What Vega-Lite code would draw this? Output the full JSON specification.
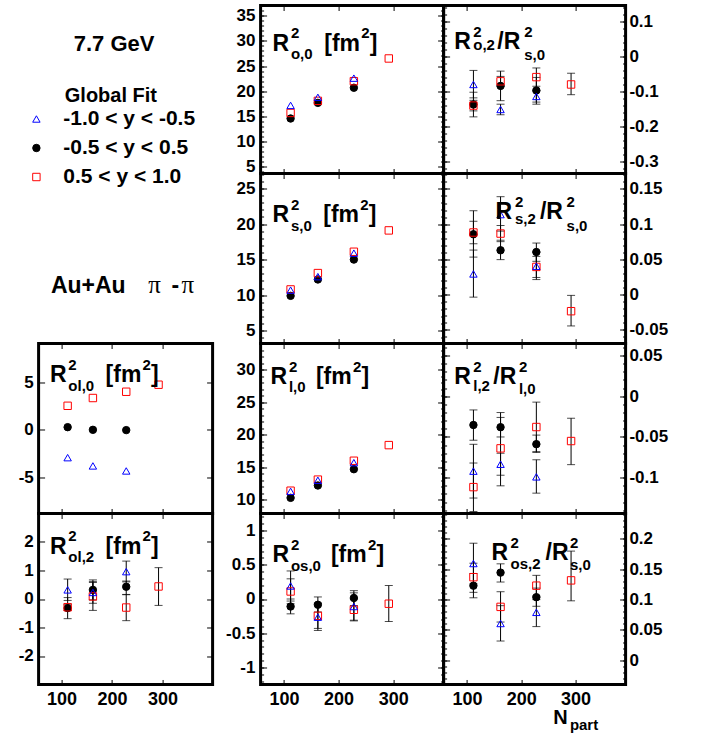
{
"$schema": "https://vega.github.io/schema/vega-lite/v6.json",
"padding": {"left": 16.6, "top": 3.5, "right": 5, "bottom": 5},
"columns": 4,
"spacing": 0,
"bounds": "flush",
"align": "each",
"config": {
  "font": "Liberation Sans",
  "locale": {"number": {"decimal": ".", "thousands": ",", "grouping": [3], "currency": ["$", ""], "minus": "-"}},
  "view": {"stroke": "black", "strokeWidth": 3},
  "axis": {"domain": false, "grid": false, "tickColor": "black", "tickWidth": 1, "labelColor": "black", "labelFont": "Liberation Sans", "labelFontWeight": "bold", "labelFontSize": 17, "labelOverlap": false, "labelFlush": false},
  "legend": {"titleFont": "Liberation Sans", "titleFontSize": 20, "titleFontWeight": "bold", "titleColor": "black", "titleAnchor": "middle", "titlePadding": 3, "labelFont": "Liberation Sans", "labelFontSize": 21, "labelFontWeight": "bold", "labelColor": "black", "labelOffset": 16.4, "labelLimit": 300, "rowPadding": 7, "symbolSize": 55, "symbolStrokeWidth": 1},
  "text": {"font": "Liberation Sans", "fontWeight": "bold", "color": "black", "align": "left", "baseline": "alphabetic"},
  "tick": {"color": "black", "thickness": 1},
  "rule": {"color": "black", "strokeWidth": 1}
},
"datasets": {
"hbt": [
{"p":"o0","n":112,"s":"-0.5 < y < 0.5","v":14.6},
{"p":"o0","n":162,"s":"-0.5 < y < 0.5","v":17.7},
{"p":"o0","n":228,"s":"-0.5 < y < 0.5","v":20.7},
{"p":"o0","n":112,"s":"0.5 < y < 1.0","v":15.7},
{"p":"o0","n":162,"s":"0.5 < y < 1.0","v":18.1},
{"p":"o0","n":228,"s":"0.5 < y < 1.0","v":22.0},
{"p":"o0","n":292,"s":"0.5 < y < 1.0","v":26.5},
{"p":"o0","n":112,"s":"-1.0 < y < -0.5","v":17.2},
{"p":"o0","n":162,"s":"-1.0 < y < -0.5","v":18.8},
{"p":"o0","n":228,"s":"-1.0 < y < -0.5","v":22.6},

{"p":"o2","n":112,"s":"-0.5 < y < 0.5","v":-0.137,"lo":-0.172,"hi":-0.102},
{"p":"o2","n":162,"s":"-0.5 < y < 0.5","v":-0.084,"lo":-0.126,"hi":-0.042},
{"p":"o2","n":228,"s":"-0.5 < y < 0.5","v":-0.097,"lo":-0.136,"hi":-0.06},
{"p":"o2","n":112,"s":"0.5 < y < 1.0","v":-0.14,"lo":-0.155,"hi":-0.125},
{"p":"o2","n":162,"s":"0.5 < y < 1.0","v":-0.071,"lo":-0.085,"hi":-0.057},
{"p":"o2","n":228,"s":"0.5 < y < 1.0","v":-0.059,"lo":-0.085,"hi":-0.033},
{"p":"o2","n":292,"s":"0.5 < y < 1.0","v":-0.08,"lo":-0.109,"hi":-0.048},
{"p":"o2","n":112,"s":"-1.0 < y < -0.5","v":-0.08,"lo":-0.118,"hi":-0.04},
{"p":"o2","n":162,"s":"-1.0 < y < -0.5","v":-0.151,"lo":-0.166,"hi":-0.136},
{"p":"o2","n":228,"s":"-1.0 < y < -0.5","v":-0.114,"lo":-0.13,"hi":-0.098},

{"p":"s0","n":112,"s":"-0.5 < y < 0.5","v":9.9},
{"p":"s0","n":162,"s":"-0.5 < y < 0.5","v":12.2},
{"p":"s0","n":228,"s":"-0.5 < y < 0.5","v":15.0},
{"p":"s0","n":112,"s":"0.5 < y < 1.0","v":10.8},
{"p":"s0","n":162,"s":"0.5 < y < 1.0","v":13.1},
{"p":"s0","n":228,"s":"0.5 < y < 1.0","v":16.1},
{"p":"s0","n":292,"s":"0.5 < y < 1.0","v":19.1},
{"p":"s0","n":112,"s":"-1.0 < y < -0.5","v":10.7},
{"p":"s0","n":162,"s":"-1.0 < y < -0.5","v":12.6},
{"p":"s0","n":228,"s":"-1.0 < y < -0.5","v":15.9},

{"p":"s2","n":112,"s":"-0.5 < y < 0.5","v":0.0855,"lo":0.053,"hi":0.119},
{"p":"s2","n":162,"s":"-0.5 < y < 0.5","v":0.0627,"lo":0.0494,"hi":0.077},
{"p":"s2","n":228,"s":"-0.5 < y < 0.5","v":0.0602,"lo":0.047,"hi":0.073},
{"p":"s2","n":112,"s":"0.5 < y < 1.0","v":0.088,"lo":0.072,"hi":0.104},
{"p":"s2","n":162,"s":"0.5 < y < 1.0","v":0.0865,"lo":0.075,"hi":0.098},
{"p":"s2","n":228,"s":"0.5 < y < 1.0","v":0.039,"lo":0.024,"hi":0.054},
{"p":"s2","n":292,"s":"0.5 < y < 1.0","v":-0.024,"lo":-0.045,"hi":-0.0015},
{"p":"s2","n":112,"s":"-1.0 < y < -0.5","v":0.029,"lo":-0.004,"hi":0.063},
{"p":"s2","n":162,"s":"-1.0 < y < -0.5","v":0.1135,"lo":0.09,"hi":0.139},
{"p":"s2","n":228,"s":"-1.0 < y < -0.5","v":0.04,"lo":0.021,"hi":0.06},

{"p":"ol0","n":112,"s":"-0.5 < y < 0.5","v":0.29},
{"p":"ol0","n":162,"s":"-0.5 < y < 0.5","v":0.01},
{"p":"ol0","n":228,"s":"-0.5 < y < 0.5","v":-0.02},
{"p":"ol0","n":112,"s":"0.5 < y < 1.0","v":2.54},
{"p":"ol0","n":162,"s":"0.5 < y < 1.0","v":3.36},
{"p":"ol0","n":228,"s":"0.5 < y < 1.0","v":4.02},
{"p":"ol0","n":292,"s":"0.5 < y < 1.0","v":4.76},
{"p":"ol0","n":112,"s":"-1.0 < y < -0.5","v":-2.92},
{"p":"ol0","n":162,"s":"-1.0 < y < -0.5","v":-3.79},
{"p":"ol0","n":228,"s":"-1.0 < y < -0.5","v":-4.32},

{"p":"l0","n":112,"s":"-0.5 < y < 0.5","v":10.3},
{"p":"l0","n":162,"s":"-0.5 < y < 0.5","v":12.2},
{"p":"l0","n":228,"s":"-0.5 < y < 0.5","v":14.7},
{"p":"l0","n":112,"s":"0.5 < y < 1.0","v":11.4},
{"p":"l0","n":162,"s":"0.5 < y < 1.0","v":13.1},
{"p":"l0","n":228,"s":"0.5 < y < 1.0","v":16.0},
{"p":"l0","n":292,"s":"0.5 < y < 1.0","v":18.4},
{"p":"l0","n":112,"s":"-1.0 < y < -0.5","v":11.3},
{"p":"l0","n":162,"s":"-1.0 < y < -0.5","v":13.0},
{"p":"l0","n":228,"s":"-1.0 < y < -0.5","v":15.7},

{"p":"l2","n":112,"s":"-0.5 < y < 0.5","v":-0.0353,"lo":-0.054,"hi":-0.0168},
{"p":"l2","n":162,"s":"-0.5 < y < 0.5","v":-0.038,"lo":-0.05,"hi":-0.026},
{"p":"l2","n":228,"s":"-0.5 < y < 0.5","v":-0.0588,"lo":-0.068,"hi":-0.0477},
{"p":"l2","n":112,"s":"0.5 < y < 1.0","v":-0.1116,"lo":-0.1416,"hi":-0.082},
{"p":"l2","n":162,"s":"0.5 < y < 1.0","v":-0.064,"lo":-0.11,"hi":-0.02},
{"p":"l2","n":228,"s":"0.5 < y < 1.0","v":-0.0378,"lo":-0.069,"hi":-0.0072},
{"p":"l2","n":292,"s":"0.5 < y < 1.0","v":-0.055,"lo":-0.084,"hi":-0.027},
{"p":"l2","n":112,"s":"-1.0 < y < -0.5","v":-0.092,"lo":-0.125,"hi":-0.059},
{"p":"l2","n":162,"s":"-1.0 < y < -0.5","v":-0.0835,"lo":-0.097,"hi":-0.07},
{"p":"l2","n":228,"s":"-1.0 < y < -0.5","v":-0.099,"lo":-0.119,"hi":-0.078},

{"p":"ol2","n":112,"s":"-0.5 < y < 0.5","v":-0.32,"lo":-0.69,"hi":0.05},
{"p":"ol2","n":162,"s":"-0.5 < y < 0.5","v":0.32,"lo":-0.03,"hi":0.67},
{"p":"ol2","n":228,"s":"-0.5 < y < 0.5","v":0.43,"lo":0.15,"hi":0.63},
{"p":"ol2","n":112,"s":"0.5 < y < 1.0","v":-0.29,"lo":-0.4,"hi":-0.18},
{"p":"ol2","n":162,"s":"0.5 < y < 1.0","v":0.09,"lo":-0.4,"hi":0.58},
{"p":"ol2","n":228,"s":"0.5 < y < 1.0","v":-0.3,"lo":-0.76,"hi":0.16},
{"p":"ol2","n":292,"s":"0.5 < y < 1.0","v":0.44,"lo":-0.225,"hi":1.1},
{"p":"ol2","n":112,"s":"-1.0 < y < -0.5","v":0.32,"lo":-0.05,"hi":0.7},
{"p":"ol2","n":162,"s":"-1.0 < y < -0.5","v":0.23,"lo":-0.15,"hi":0.61},
{"p":"ol2","n":228,"s":"-1.0 < y < -0.5","v":0.96,"lo":0.6,"hi":1.33},

{"p":"os0","n":112,"s":"-0.5 < y < 0.5","v":-0.11,"lo":-0.217,"hi":0.0},
{"p":"os0","n":162,"s":"-0.5 < y < 0.5","v":-0.084,"lo":-0.19,"hi":0.03},
{"p":"os0","n":228,"s":"-0.5 < y < 0.5","v":0.015,"lo":-0.095,"hi":0.122},
{"p":"os0","n":112,"s":"0.5 < y < 1.0","v":0.11,"lo":-0.07,"hi":0.295},
{"p":"os0","n":162,"s":"0.5 < y < 1.0","v":-0.246,"lo":-0.43,"hi":-0.06},
{"p":"os0","n":228,"s":"0.5 < y < 1.0","v":-0.158,"lo":-0.32,"hi":0.0},
{"p":"os0","n":292,"s":"0.5 < y < 1.0","v":-0.069,"lo":-0.33,"hi":0.196},
{"p":"os0","n":112,"s":"-1.0 < y < -0.5","v":0.19,"lo":-0.03,"hi":0.41},
{"p":"os0","n":162,"s":"-1.0 < y < -0.5","v":-0.266,"lo":-0.46,"hi":-0.07},
{"p":"os0","n":228,"s":"-1.0 < y < -0.5","v":-0.11,"lo":-0.31,"hi":0.09},

{"p":"os2","n":112,"s":"-0.5 < y < 0.5","v":0.123,"lo":0.103,"hi":0.143},
{"p":"os2","n":162,"s":"-0.5 < y < 0.5","v":0.1445,"lo":0.129,"hi":0.159},
{"p":"os2","n":228,"s":"-0.5 < y < 0.5","v":0.104,"lo":0.089,"hi":0.119},
{"p":"os2","n":112,"s":"0.5 < y < 1.0","v":0.137,"lo":0.112,"hi":0.16},
{"p":"os2","n":162,"s":"0.5 < y < 1.0","v":0.088,"lo":0.063,"hi":0.113},
{"p":"os2","n":228,"s":"0.5 < y < 1.0","v":0.123,"lo":0.106,"hi":0.14},
{"p":"os2","n":292,"s":"0.5 < y < 1.0","v":0.1317,"lo":0.098,"hi":0.18},
{"p":"os2","n":112,"s":"-1.0 < y < -0.5","v":0.1595,"lo":0.126,"hi":0.193},
{"p":"os2","n":162,"s":"-1.0 < y < -0.5","v":0.0606,"lo":0.0317,"hi":0.09},
{"p":"os2","n":228,"s":"-1.0 < y < -0.5","v":0.079,"lo":0.0555,"hi":0.1}
]
},
"concat": [
{"width": 174, "height": 168, "view": {"stroke": null}, "data": {"values": [{}]},
 "mark": {"type": "text", "text": "7.7 GeV", "fontSize": 22, "align": "center"},
 "encoding": {"x": {"datum": 0.434, "type": "quantitative", "scale": {"domain": [0, 1]}, "axis": null},
              "y": {"datum": 0.272, "type": "quantitative", "scale": {"domain": [0, 1], "reverse": true}, "axis": null}}},
{"width": 48, "height": 168, "view": {"stroke": null}, "data": {"values": [{}]}, "mark": {"type": "text", "text": ""}},
{"width": 183, "height": 168, "data": {"name": "hbt"}, "transform": [{"filter": "datum.p == 'o0'"}],
 "resolve": {"axis": {"x": "independent", "y": "independent"}},
 "layer": [
  {"mark": {"type": "rule"},
   "encoding": {"x": {"field": "n", "type": "quantitative", "scale": {"domain": [57, 392.5], "nice": false, "zero": false}, "axis": {"orient": "bottom", "values": [100, 200, 300], "tickSize": -5, "labels": false, "title": null}},
                "y": {"field": "lo", "type": "quantitative", "scale": {"domain": [3.7, 37], "nice": false, "zero": false}, "axis": {"orient": "left", "values": [5, 10, 15, 20, 25, 30, 35], "tickSize": -6, "labelPadding": 11.7, "format": "~g", "title": null}},
                "y2": {"field": "hi"}}},
  {"mark": {"type": "tick", "orient": "horizontal", "size": 8},
   "encoding": {"x": {"field": "n", "type": "quantitative", "axis": {"orient": "top", "values": [100, 200, 300], "tickSize": -5, "labels": false, "title": null}},
                "y": {"field": "lo", "type": "quantitative", "axis": {"orient": "right", "values": [5, 10, 15, 20, 25, 30, 35], "tickSize": -6, "labels": false, "title": null}}}},
  {"mark": {"type": "tick", "orient": "horizontal", "size": 8},
   "encoding": {"x": {"field": "n", "type": "quantitative", "axis": null},
                "y": {"field": "hi", "type": "quantitative", "axis": {"orient": "left", "values": [4,5,6,7,8,9,10,11,12,13,14,15,16,17,18,19,20,21,22,23,24,25,26,27,28,29,30,31,32,33,34,35,36,37], "tickSize": -3, "labels": false, "title": null}}}},
  {"mark": {"type": "point", "filled": true, "size": 55, "strokeWidth": 1, "opacity": 1},
   "encoding": {"x": {"field": "n", "type": "quantitative", "axis": null},
                "y": {"field": "v", "type": "quantitative", "axis": {"orient": "right", "values": [4,5,6,7,8,9,10,11,12,13,14,15,16,17,18,19,20,21,22,23,24,25,26,27,28,29,30,31,32,33,34,35,36,37], "tickSize": -3, "labels": false, "title": null}},
                "shape": {"field": "s", "type": "nominal", "scale": {"domain": ["-1.0 < y < -0.5", "-0.5 < y < 0.5", "0.5 < y < 1.0"], "range": ["triangle-up", "circle", "square"]}, "legend": {"title": "Global Fit", "titleFontSize": 20, "orient": "none", "legendX": -12.7, "legendY": 80, "labelExpr": "datum.label == '0.5 < y < 1.0' ? '\u00a00.5 < y < 1.0' : datum.label"}},
                "stroke": {"field": "s", "type": "nominal", "scale": {"domain": ["-1.0 < y < -0.5", "-0.5 < y < 0.5", "0.5 < y < 1.0"], "range": ["#0000ff", "#000000", "#ff0000"]}, "legend": {"title": "Global Fit", "titleFontSize": 20, "orient": "none", "legendX": -12.7, "legendY": 80, "labelExpr": "datum.label == '0.5 < y < 1.0' ? '\u00a00.5 < y < 1.0' : datum.label"}},
                "fill": {"field": "s", "type": "nominal", "scale": {"domain": ["-1.0 < y < -0.5", "-0.5 < y < 0.5", "0.5 < y < 1.0"], "range": ["transparent", "#000000", "transparent"]}, "legend": {"title": "Global Fit", "titleFontSize": 20, "orient": "none", "legendX": -12.7, "legendY": 80, "labelExpr": "datum.label == '0.5 < y < 1.0' ? '\u00a00.5 < y < 1.0' : datum.label"}}}},
  {"data": {"values": [{}]},
   "encoding": {"x": {"datum": 79.0, "type": "quantitative", "axis": null}, "y": {"datum": 28.08, "type": "quantitative", "axis": null}},
   "layer": [
    {"mark": {"type": "text", "text": "R", "fontSize": 23}},
    {"mark": {"type": "text", "text": "2", "fontSize": 15, "dx": 18.3, "dy": -12.3}},
    {"mark": {"type": "text", "text": "o,0", "fontSize": 15, "dx": 18.3, "dy": 8.5}},
    {"mark": {"type": "text", "text": "[fm", "fontSize": 23, "dx": 51.7}},
    {"mark": {"type": "text", "text": "2", "fontSize": 15, "dx": 88.7, "dy": -12.3}},
    {"mark": {"type": "text", "text": "]", "fontSize": 23, "dx": 97.2}}
   ]}
 ]},
{"width": 182, "height": 168, "data": {"name": "hbt"}, "transform": [{"filter": "datum.p == 'o2'"}],
 "resolve": {"axis": {"x": "independent", "y": "independent"}},
 "layer": [
  {"mark": {"type": "rule"},
   "encoding": {"x": {"field": "n", "type": "quantitative", "scale": {"domain": [57, 392.5], "nice": false, "zero": false}, "axis": {"orient": "bottom", "values": [100, 200, 300], "tickSize": -5, "labels": false, "title": null}},
                "y": {"field": "lo", "type": "quantitative", "scale": {"domain": [-0.333, 0.1445], "nice": false, "zero": false}, "axis": {"orient": "right", "values": [-0.3, -0.2, -0.1, 0, 0.1], "tickSize": -6, "labelPadding": 9.3, "format": "~g", "title": null}},
                "y2": {"field": "hi"}}},
  {"mark": {"type": "tick", "orient": "horizontal", "size": 8},
   "encoding": {"x": {"field": "n", "type": "quantitative", "axis": {"orient": "top", "values": [100, 200, 300], "tickSize": -5, "labels": false, "title": null}},
                "y": {"field": "lo", "type": "quantitative", "axis": {"orient": "left", "values": [-0.3, -0.2, -0.1, 0, 0.1], "tickSize": -6, "labels": false, "title": null}}}},
  {"mark": {"type": "tick", "orient": "horizontal", "size": 8},
   "encoding": {"x": {"field": "n", "type": "quantitative", "axis": null},
                "y": {"field": "hi", "type": "quantitative", "axis": {"orient": "left", "values": [-0.32,-0.3,-0.28,-0.26,-0.24,-0.22,-0.2,-0.18,-0.16,-0.14,-0.12,-0.1,-0.08,-0.06,-0.04,-0.02,0,0.02,0.04,0.06,0.08,0.1,0.12,0.14], "tickSize": -3, "labels": false, "title": null}}}},
  {"mark": {"type": "point", "filled": true, "size": 55, "strokeWidth": 1, "opacity": 1},
   "encoding": {"x": {"field": "n", "type": "quantitative", "axis": null},
                "y": {"field": "v", "type": "quantitative", "axis": {"orient": "right", "values": [-0.32,-0.3,-0.28,-0.26,-0.24,-0.22,-0.2,-0.18,-0.16,-0.14,-0.12,-0.1,-0.08,-0.06,-0.04,-0.02,0,0.02,0.04,0.06,0.08,0.1,0.12,0.14], "tickSize": -3, "labels": false, "title": null}},
                "shape": {"field": "s", "type": "nominal", "scale": {"domain": ["-1.0 < y < -0.5", "-0.5 < y < 0.5", "0.5 < y < 1.0"], "range": ["triangle-up", "circle", "square"]}},
                "stroke": {"field": "s", "type": "nominal", "scale": {"domain": ["-1.0 < y < -0.5", "-0.5 < y < 0.5", "0.5 < y < 1.0"], "range": ["#0000ff", "#000000", "#ff0000"]}},
                "fill": {"field": "s", "type": "nominal", "scale": {"domain": ["-1.0 < y < -0.5", "-0.5 < y < 0.5", "0.5 < y < 1.0"], "range": ["transparent", "#000000", "transparent"]}}}},
  {"data": {"values": [{}]},
   "encoding": {"x": {"datum": 76.7, "type": "quantitative", "axis": null}, "y": {"datum": 0.0214, "type": "quantitative", "axis": null}},
   "layer": [
    {"mark": {"type": "text", "text": "R", "fontSize": 23}},
    {"mark": {"type": "text", "text": "2", "fontSize": 15, "dx": 19, "dy": -12}},
    {"mark": {"type": "text", "text": "o,2", "fontSize": 15, "dx": 19, "dy": 1.5}},
    {"mark": {"type": "text", "text": "/R", "fontSize": 23, "dx": 43}},
    {"mark": {"type": "text", "text": "2", "fontSize": 15, "dx": 70, "dy": -12}},
    {"mark": {"type": "text", "text": "s,0", "fontSize": 15, "dx": 70, "dy": 11}}
   ]}
 ]},

{"width": 174, "height": 170, "view": {"stroke": null}, "data": {"values": [{}]},
 "encoding": {"x": {"datum": 0.0707, "type": "quantitative", "scale": {"domain": [0, 1]}, "axis": null},
              "y": {"datum": 0.704, "type": "quantitative", "scale": {"domain": [0, 1], "reverse": true}, "axis": null}},
 "layer": [
  {"mark": {"type": "text", "text": "Au+Au", "fontSize": 23}},
  {"mark": {"type": "text", "text": "π", "fontSize": 25, "font": "Liberation Serif", "fontWeight": "normal", "dx": 97.4}},
  {"mark": {"type": "text", "text": "-", "fontSize": 23, "dx": 120.7}},
  {"mark": {"type": "text", "text": "π", "fontSize": 25, "font": "Liberation Serif", "fontWeight": "normal", "dx": 130.7}}
 ]},
{"width": 48, "height": 170, "view": {"stroke": null}, "data": {"values": [{}]}, "mark": {"type": "text", "text": ""}},
{"width": 183, "height": 170, "data": {"name": "hbt"}, "transform": [{"filter": "datum.p == 's0'"}],
 "resolve": {"axis": {"x": "independent", "y": "independent"}},
 "layer": [
  {"mark": {"type": "rule"},
   "encoding": {"x": {"field": "n", "type": "quantitative", "scale": {"domain": [57, 392.5], "nice": false, "zero": false}, "axis": {"orient": "bottom", "values": [100, 200, 300], "tickSize": -5, "labels": false, "title": null}},
                "y": {"field": "lo", "type": "quantitative", "scale": {"domain": [3.2, 27.1], "nice": false, "zero": false}, "axis": {"orient": "left", "values": [5, 10, 15, 20, 25], "tickSize": -6, "labelPadding": 11.7, "format": "~g", "title": null}},
                "y2": {"field": "hi"}}},
  {"mark": {"type": "tick", "orient": "horizontal", "size": 8},
   "encoding": {"x": {"field": "n", "type": "quantitative", "axis": {"orient": "top", "values": [100, 200, 300], "tickSize": -5, "labels": false, "title": null}},
                "y": {"field": "lo", "type": "quantitative", "axis": {"orient": "right", "values": [5, 10, 15, 20, 25], "tickSize": -6, "labels": false, "title": null}}}},
  {"mark": {"type": "tick", "orient": "horizontal", "size": 8},
   "encoding": {"x": {"field": "n", "type": "quantitative", "axis": null},
                "y": {"field": "hi", "type": "quantitative", "axis": {"orient": "left", "values": [4,5,6,7,8,9,10,11,12,13,14,15,16,17,18,19,20,21,22,23,24,25,26,27], "tickSize": -3, "labels": false, "title": null}}}},
  {"mark": {"type": "point", "filled": true, "size": 55, "strokeWidth": 1, "opacity": 1},
   "encoding": {"x": {"field": "n", "type": "quantitative", "axis": null},
                "y": {"field": "v", "type": "quantitative", "axis": {"orient": "right", "values": [4,5,6,7,8,9,10,11,12,13,14,15,16,17,18,19,20,21,22,23,24,25,26,27], "tickSize": -3, "labels": false, "title": null}},
                "shape": {"field": "s", "type": "nominal", "scale": {"domain": ["-1.0 < y < -0.5", "-0.5 < y < 0.5", "0.5 < y < 1.0"], "range": ["triangle-up", "circle", "square"]}},
                "stroke": {"field": "s", "type": "nominal", "scale": {"domain": ["-1.0 < y < -0.5", "-0.5 < y < 0.5", "0.5 < y < 1.0"], "range": ["#0000ff", "#000000", "#ff0000"]}},
                "fill": {"field": "s", "type": "nominal", "scale": {"domain": ["-1.0 < y < -0.5", "-0.5 < y < 0.5", "0.5 < y < 1.0"], "range": ["transparent", "#000000", "transparent"]}}}},
  {"data": {"values": [{}]},
   "encoding": {"x": {"datum": 79.0, "type": "quantitative", "axis": null}, "y": {"datum": 20.25, "type": "quantitative", "axis": null}},
   "layer": [
    {"mark": {"type": "text", "text": "R", "fontSize": 23}},
    {"mark": {"type": "text", "text": "2", "fontSize": 15, "dx": 18.3, "dy": -12.3}},
    {"mark": {"type": "text", "text": "s,0", "fontSize": 15, "dx": 18.3, "dy": 8.5}},
    {"mark": {"type": "text", "text": "[fm", "fontSize": 23, "dx": 50.7}},
    {"mark": {"type": "text", "text": "2", "fontSize": 15, "dx": 87.7, "dy": -12.3}},
    {"mark": {"type": "text", "text": "]", "fontSize": 23, "dx": 96.2}}
   ]}
 ]},
{"width": 182, "height": 170, "data": {"name": "hbt"}, "transform": [{"filter": "datum.p == 's2'"}],
 "resolve": {"axis": {"x": "independent", "y": "independent"}},
 "layer": [
  {"mark": {"type": "rule"},
   "encoding": {"x": {"field": "n", "type": "quantitative", "scale": {"domain": [57, 392.5], "nice": false, "zero": false}, "axis": {"orient": "bottom", "values": [100, 200, 300], "tickSize": -5, "labels": false, "title": null}},
                "y": {"field": "lo", "type": "quantitative", "scale": {"domain": [-0.07, 0.172], "nice": false, "zero": false}, "axis": {"orient": "right", "values": [-0.05, 0, 0.05, 0.1, 0.15], "tickSize": -6, "labelPadding": 9.3, "format": "~g", "title": null}},
                "y2": {"field": "hi"}}},
  {"mark": {"type": "tick", "orient": "horizontal", "size": 8},
   "encoding": {"x": {"field": "n", "type": "quantitative", "axis": {"orient": "top", "values": [100, 200, 300], "tickSize": -5, "labels": false, "title": null}},
                "y": {"field": "lo", "type": "quantitative", "axis": {"orient": "left", "values": [-0.05, 0, 0.05, 0.1, 0.15], "tickSize": -6, "labels": false, "title": null}}}},
  {"mark": {"type": "tick", "orient": "horizontal", "size": 8},
   "encoding": {"x": {"field": "n", "type": "quantitative", "axis": null},
                "y": {"field": "hi", "type": "quantitative", "axis": {"orient": "left", "values": [-0.07,-0.06,-0.05,-0.04,-0.03,-0.02,-0.01,0,0.01,0.02,0.03,0.04,0.05,0.06,0.07,0.08,0.09,0.1,0.11,0.12,0.13,0.14,0.15,0.16,0.17], "tickSize": -3, "labels": false, "title": null}}}},
  {"mark": {"type": "point", "filled": true, "size": 55, "strokeWidth": 1, "opacity": 1},
   "encoding": {"x": {"field": "n", "type": "quantitative", "axis": null},
                "y": {"field": "v", "type": "quantitative", "axis": {"orient": "right", "values": [-0.07,-0.06,-0.05,-0.04,-0.03,-0.02,-0.01,0,0.01,0.02,0.03,0.04,0.05,0.06,0.07,0.08,0.09,0.1,0.11,0.12,0.13,0.14,0.15,0.16,0.17], "tickSize": -3, "labels": false, "title": null}},
                "shape": {"field": "s", "type": "nominal", "scale": {"domain": ["-1.0 < y < -0.5", "-0.5 < y < 0.5", "0.5 < y < 1.0"], "range": ["triangle-up", "circle", "square"]}},
                "stroke": {"field": "s", "type": "nominal", "scale": {"domain": ["-1.0 < y < -0.5", "-0.5 < y < 0.5", "0.5 < y < 1.0"], "range": ["#0000ff", "#000000", "#ff0000"]}},
                "fill": {"field": "s", "type": "nominal", "scale": {"domain": ["-1.0 < y < -0.5", "-0.5 < y < 0.5", "0.5 < y < 1.0"], "range": ["transparent", "#000000", "transparent"]}}}},
  {"data": {"values": [{}]},
   "encoding": {"x": {"datum": 152.9, "type": "quantitative", "axis": null}, "y": {"datum": 0.1075, "type": "quantitative", "axis": null}},
   "layer": [
    {"mark": {"type": "text", "text": "R", "fontSize": 23}},
    {"mark": {"type": "text", "text": "2", "fontSize": 15, "dx": 19.3, "dy": -12}},
    {"mark": {"type": "text", "text": "s,2", "fontSize": 15, "dx": 19.3, "dy": 5}},
    {"mark": {"type": "text", "text": "/R", "fontSize": 23, "dx": 44.3}},
    {"mark": {"type": "text", "text": "2", "fontSize": 15, "dx": 71, "dy": -12}},
    {"mark": {"type": "text", "text": "s,0", "fontSize": 15, "dx": 71, "dy": 11.7}}
   ]}
 ]},

{"width": 174, "height": 170, "data": {"name": "hbt"}, "transform": [{"filter": "datum.p == 'ol0'"}],
 "resolve": {"axis": {"x": "independent", "y": "independent"}},
 "layer": [
  {"mark": {"type": "rule"},
   "encoding": {"x": {"field": "n", "type": "quantitative", "scale": {"domain": [54.5, 399], "nice": false, "zero": false}, "axis": {"orient": "bottom", "values": [100, 200, 300], "tickSize": -5, "labels": false, "title": null}},
                "y": {"field": "lo", "type": "quantitative", "scale": {"domain": [-8.8, 9.1], "nice": false, "zero": false}, "axis": {"orient": "left", "values": [-5, 0, 5], "tickSize": -6, "labelPadding": 11.3, "format": "~g", "title": null}},
                "y2": {"field": "hi"}}},
  {"mark": {"type": "tick", "orient": "horizontal", "size": 8},
   "encoding": {"x": {"field": "n", "type": "quantitative", "axis": {"orient": "top", "values": [100, 200, 300], "tickSize": -5, "labels": false, "title": null}},
                "y": {"field": "lo", "type": "quantitative", "axis": {"orient": "right", "values": [-5, 0, 5], "tickSize": -6, "labels": false, "title": null}}}},
  {"mark": {"type": "point", "filled": true, "size": 55, "strokeWidth": 1, "opacity": 1},
   "encoding": {"x": {"field": "n", "type": "quantitative", "axis": null},
                "y": {"field": "v", "type": "quantitative", "axis": null},
                "shape": {"field": "s", "type": "nominal", "scale": {"domain": ["-1.0 < y < -0.5", "-0.5 < y < 0.5", "0.5 < y < 1.0"], "range": ["triangle-up", "circle", "square"]}},
                "stroke": {"field": "s", "type": "nominal", "scale": {"domain": ["-1.0 < y < -0.5", "-0.5 < y < 0.5", "0.5 < y < 1.0"], "range": ["#0000ff", "#000000", "#ff0000"]}},
                "fill": {"field": "s", "type": "nominal", "scale": {"domain": ["-1.0 < y < -0.5", "-0.5 < y < 0.5", "0.5 < y < 1.0"], "range": ["transparent", "#000000", "transparent"]}}}},
  {"data": {"values": [{}]},
   "encoding": {"x": {"datum": 76.9, "type": "quantitative", "axis": null}, "y": {"datum": 5.03, "type": "quantitative", "axis": null}},
   "layer": [
    {"mark": {"type": "text", "text": "R", "fontSize": 23}},
    {"mark": {"type": "text", "text": "2", "fontSize": 15, "dx": 18.4, "dy": -12.3}},
    {"mark": {"type": "text", "text": "ol,0", "fontSize": 15, "dx": 18.4, "dy": 8.5}},
    {"mark": {"type": "text", "text": "[fm", "fontSize": 23, "dx": 55.7}},
    {"mark": {"type": "text", "text": "2", "fontSize": 15, "dx": 92.7, "dy": -12.3}},
    {"mark": {"type": "text", "text": "]", "fontSize": 23, "dx": 101.2}}
   ]}
 ]},
{"width": 48, "height": 170, "view": {"stroke": null}, "data": {"values": [{}]}, "mark": {"type": "text", "text": ""}},
{"width": 183, "height": 170, "data": {"name": "hbt"}, "transform": [{"filter": "datum.p == 'l0'"}],
 "resolve": {"axis": {"x": "independent", "y": "independent"}},
 "layer": [
  {"mark": {"type": "rule"},
   "encoding": {"x": {"field": "n", "type": "quantitative", "scale": {"domain": [57, 392.5], "nice": false, "zero": false}, "axis": {"orient": "bottom", "values": [100, 200, 300], "tickSize": -5, "labels": false, "title": null}},
                "y": {"field": "lo", "type": "quantitative", "scale": {"domain": [7.9, 34], "nice": false, "zero": false}, "axis": {"orient": "left", "values": [10, 15, 20, 25, 30], "tickSize": -6, "labelPadding": 11.7, "format": "~g", "title": null}},
                "y2": {"field": "hi"}}},
  {"mark": {"type": "tick", "orient": "horizontal", "size": 8},
   "encoding": {"x": {"field": "n", "type": "quantitative", "axis": {"orient": "top", "values": [100, 200, 300], "tickSize": -5, "labels": false, "title": null}},
                "y": {"field": "lo", "type": "quantitative", "axis": {"orient": "right", "values": [10, 15, 20, 25, 30], "tickSize": -6, "labels": false, "title": null}}}},
  {"mark": {"type": "tick", "orient": "horizontal", "size": 8},
   "encoding": {"x": {"field": "n", "type": "quantitative", "axis": null},
                "y": {"field": "hi", "type": "quantitative", "axis": {"orient": "left", "values": [8,9,10,11,12,13,14,15,16,17,18,19,20,21,22,23,24,25,26,27,28,29,30,31,32,33,34], "tickSize": -3, "labels": false, "title": null}}}},
  {"mark": {"type": "point", "filled": true, "size": 55, "strokeWidth": 1, "opacity": 1},
   "encoding": {"x": {"field": "n", "type": "quantitative", "axis": null},
                "y": {"field": "v", "type": "quantitative", "axis": {"orient": "right", "values": [8,9,10,11,12,13,14,15,16,17,18,19,20,21,22,23,24,25,26,27,28,29,30,31,32,33,34], "tickSize": -3, "labels": false, "title": null}},
                "shape": {"field": "s", "type": "nominal", "scale": {"domain": ["-1.0 < y < -0.5", "-0.5 < y < 0.5", "0.5 < y < 1.0"], "range": ["triangle-up", "circle", "square"]}},
                "stroke": {"field": "s", "type": "nominal", "scale": {"domain": ["-1.0 < y < -0.5", "-0.5 < y < 0.5", "0.5 < y < 1.0"], "range": ["#0000ff", "#000000", "#ff0000"]}},
                "fill": {"field": "s", "type": "nominal", "scale": {"domain": ["-1.0 < y < -0.5", "-0.5 < y < 0.5", "0.5 < y < 1.0"], "range": ["transparent", "#000000", "transparent"]}}}},
  {"data": {"values": [{}]},
   "encoding": {"x": {"datum": 75.3, "type": "quantitative", "axis": null}, "y": {"datum": 27.81, "type": "quantitative", "axis": null}},
   "layer": [
    {"mark": {"type": "text", "text": "R", "fontSize": 23}},
    {"mark": {"type": "text", "text": "2", "fontSize": 15, "dx": 18.3, "dy": -12.3}},
    {"mark": {"type": "text", "text": "l,0", "fontSize": 15, "dx": 18.3, "dy": 8.5}},
    {"mark": {"type": "text", "text": "[fm", "fontSize": 23, "dx": 45.3}},
    {"mark": {"type": "text", "text": "2", "fontSize": 15, "dx": 82.3, "dy": -12.3}},
    {"mark": {"type": "text", "text": "]", "fontSize": 23, "dx": 90.8}}
   ]}
 ]},
{"width": 182, "height": 170, "data": {"name": "hbt"}, "transform": [{"filter": "datum.p == 'l2'"}],
 "resolve": {"axis": {"x": "independent", "y": "independent"}},
 "layer": [
  {"mark": {"type": "rule"},
   "encoding": {"x": {"field": "n", "type": "quantitative", "scale": {"domain": [57, 392.5], "nice": false, "zero": false}, "axis": {"orient": "bottom", "values": [100, 200, 300], "tickSize": -5, "labels": false, "title": null}},
                "y": {"field": "lo", "type": "quantitative", "scale": {"domain": [-0.144, 0.0648], "nice": false, "zero": false}, "axis": {"orient": "right", "values": [-0.1, -0.05, 0, 0.05], "tickSize": -6, "labelPadding": 9.3, "format": "~g", "title": null}},
                "y2": {"field": "hi"}}},
  {"mark": {"type": "tick", "orient": "horizontal", "size": 8},
   "encoding": {"x": {"field": "n", "type": "quantitative", "axis": {"orient": "top", "values": [100, 200, 300], "tickSize": -5, "labels": false, "title": null}},
                "y": {"field": "lo", "type": "quantitative", "axis": {"orient": "left", "values": [-0.1, -0.05, 0, 0.05], "tickSize": -6, "labels": false, "title": null}}}},
  {"mark": {"type": "tick", "orient": "horizontal", "size": 8},
   "encoding": {"x": {"field": "n", "type": "quantitative", "axis": null},
                "y": {"field": "hi", "type": "quantitative", "axis": {"orient": "left", "values": [-0.14,-0.13,-0.12,-0.11,-0.1,-0.09,-0.08,-0.07,-0.06,-0.05,-0.04,-0.03,-0.02,-0.01,0,0.01,0.02,0.03,0.04,0.05,0.06], "tickSize": -3, "labels": false, "title": null}}}},
  {"mark": {"type": "point", "filled": true, "size": 55, "strokeWidth": 1, "opacity": 1},
   "encoding": {"x": {"field": "n", "type": "quantitative", "axis": null},
                "y": {"field": "v", "type": "quantitative", "axis": {"orient": "right", "values": [-0.14,-0.13,-0.12,-0.11,-0.1,-0.09,-0.08,-0.07,-0.06,-0.05,-0.04,-0.03,-0.02,-0.01,0,0.01,0.02,0.03,0.04,0.05,0.06], "tickSize": -3, "labels": false, "title": null}},
                "shape": {"field": "s", "type": "nominal", "scale": {"domain": ["-1.0 < y < -0.5", "-0.5 < y < 0.5", "0.5 < y < 1.0"], "range": ["triangle-up", "circle", "square"]}},
                "stroke": {"field": "s", "type": "nominal", "scale": {"domain": ["-1.0 < y < -0.5", "-0.5 < y < 0.5", "0.5 < y < 1.0"], "range": ["#0000ff", "#000000", "#ff0000"]}},
                "fill": {"field": "s", "type": "nominal", "scale": {"domain": ["-1.0 < y < -0.5", "-0.5 < y < 0.5", "0.5 < y < 1.0"], "range": ["transparent", "#000000", "transparent"]}}}},
  {"data": {"values": [{}]},
   "encoding": {"x": {"datum": 76.7, "type": "quantitative", "axis": null}, "y": {"datum": 0.0153, "type": "quantitative", "axis": null}},
   "layer": [
    {"mark": {"type": "text", "text": "R", "fontSize": 23}},
    {"mark": {"type": "text", "text": "2", "fontSize": 15, "dx": 19, "dy": -12}},
    {"mark": {"type": "text", "text": "l,2", "fontSize": 15, "dx": 19, "dy": 6.7}},
    {"mark": {"type": "text", "text": "/R", "fontSize": 23, "dx": 39}},
    {"mark": {"type": "text", "text": "2", "fontSize": 15, "dx": 64.6, "dy": -12}},
    {"mark": {"type": "text", "text": "l,0", "fontSize": 15, "dx": 64.6, "dy": 10}}
   ]}
 ]},

{"width": 174, "height": 171, "data": {"name": "hbt"}, "transform": [{"filter": "datum.p == 'ol2'"}],
 "resolve": {"axis": {"x": "independent", "y": "independent"}},
 "layer": [
  {"mark": {"type": "rule"},
   "encoding": {"x": {"field": "n", "type": "quantitative", "scale": {"domain": [54.5, 399], "nice": false, "zero": false}, "axis": {"orient": "bottom", "values": [100, 200, 300], "tickSize": -5, "labelPadding": 11.4, "labelFontSize": 18, "format": "d", "title": null}},
                "y": {"field": "lo", "type": "quantitative", "scale": {"domain": [-3, 3], "nice": false, "zero": false}, "axis": {"orient": "left", "values": [-2, -1, 0, 1, 2], "tickSize": -6, "labelPadding": 11.3, "format": "~g", "title": null}},
                "y2": {"field": "hi"}}},
  {"mark": {"type": "tick", "orient": "horizontal", "size": 8},
   "encoding": {"x": {"field": "n", "type": "quantitative", "axis": {"orient": "top", "values": [100, 200, 300], "tickSize": -5, "labels": false, "title": null}},
                "y": {"field": "lo", "type": "quantitative", "axis": {"orient": "right", "values": [-2, -1, 0, 1, 2], "tickSize": -6, "labels": false, "title": null}}}},
  {"mark": {"type": "tick", "orient": "horizontal", "size": 8},
   "encoding": {"x": {"field": "n", "type": "quantitative", "axis": null},
                "y": {"field": "hi", "type": "quantitative", "axis": null}}},
  {"mark": {"type": "point", "filled": true, "size": 55, "strokeWidth": 1, "opacity": 1},
   "encoding": {"x": {"field": "n", "type": "quantitative", "axis": null},
                "y": {"field": "v", "type": "quantitative", "axis": null},
                "shape": {"field": "s", "type": "nominal", "scale": {"domain": ["-1.0 < y < -0.5", "-0.5 < y < 0.5", "0.5 < y < 1.0"], "range": ["triangle-up", "circle", "square"]}},
                "stroke": {"field": "s", "type": "nominal", "scale": {"domain": ["-1.0 < y < -0.5", "-0.5 < y < 0.5", "0.5 < y < 1.0"], "range": ["#0000ff", "#000000", "#ff0000"]}},
                "fill": {"field": "s", "type": "nominal", "scale": {"domain": ["-1.0 < y < -0.5", "-0.5 < y < 0.5", "0.5 < y < 1.0"], "range": ["transparent", "#000000", "transparent"]}}}},
  {"data": {"values": [{}]},
   "encoding": {"x": {"datum": 76.9, "type": "quantitative", "axis": null}, "y": {"datum": 1.586, "type": "quantitative", "axis": null}},
   "layer": [
    {"mark": {"type": "text", "text": "R", "fontSize": 23}},
    {"mark": {"type": "text", "text": "2", "fontSize": 15, "dx": 18.4, "dy": -12.3}},
    {"mark": {"type": "text", "text": "ol,2", "fontSize": 15, "dx": 18.4, "dy": 8.5}},
    {"mark": {"type": "text", "text": "[fm", "fontSize": 23, "dx": 55.7}},
    {"mark": {"type": "text", "text": "2", "fontSize": 15, "dx": 92.7, "dy": -12.3}},
    {"mark": {"type": "text", "text": "]", "fontSize": 23, "dx": 101.2}}
   ]}
 ]},
{"width": 48, "height": 171, "view": {"stroke": null}, "data": {"values": [{}]}, "mark": {"type": "text", "text": ""}},
{"width": 183, "height": 171, "data": {"name": "hbt"}, "transform": [{"filter": "datum.p == 'os0'"}],
 "resolve": {"axis": {"x": "independent", "y": "independent"}},
 "layer": [
  {"mark": {"type": "rule"},
   "encoding": {"x": {"field": "n", "type": "quantitative", "scale": {"domain": [57, 392.5], "nice": false, "zero": false}, "axis": {"orient": "bottom", "values": [100, 200, 300], "tickSize": -5, "labelPadding": 11.4, "labelFontSize": 18, "format": "d", "title": null}},
                "y": {"field": "lo", "type": "quantitative", "scale": {"domain": [-1.25, 1.25], "nice": false, "zero": false}, "axis": {"orient": "left", "values": [-1, -0.5, 0, 0.5, 1], "tickSize": -6, "labelPadding": 11.7, "format": "~g", "title": null}},
                "y2": {"field": "hi"}}},
  {"mark": {"type": "tick", "orient": "horizontal", "size": 8},
   "encoding": {"x": {"field": "n", "type": "quantitative", "axis": {"orient": "top", "values": [100, 200, 300], "tickSize": -5, "labels": false, "title": null}},
                "y": {"field": "lo", "type": "quantitative", "axis": {"orient": "right", "values": [-1, -0.5, 0, 0.5, 1], "tickSize": -6, "labels": false, "title": null}}}},
  {"mark": {"type": "tick", "orient": "horizontal", "size": 8},
   "encoding": {"x": {"field": "n", "type": "quantitative", "axis": null},
                "y": {"field": "hi", "type": "quantitative", "axis": {"orient": "left", "values": [-1.2,-1.1,-1,-0.9,-0.8,-0.7,-0.6,-0.5,-0.4,-0.3,-0.2,-0.1,0,0.1,0.2,0.3,0.4,0.5,0.6,0.7,0.8,0.9,1,1.1,1.2], "tickSize": -3, "labels": false, "title": null}}}},
  {"mark": {"type": "point", "filled": true, "size": 55, "strokeWidth": 1, "opacity": 1},
   "encoding": {"x": {"field": "n", "type": "quantitative", "axis": null},
                "y": {"field": "v", "type": "quantitative", "axis": {"orient": "right", "values": [-1.2,-1.1,-1,-0.9,-0.8,-0.7,-0.6,-0.5,-0.4,-0.3,-0.2,-0.1,0,0.1,0.2,0.3,0.4,0.5,0.6,0.7,0.8,0.9,1,1.1,1.2], "tickSize": -3, "labels": false, "title": null}},
                "shape": {"field": "s", "type": "nominal", "scale": {"domain": ["-1.0 < y < -0.5", "-0.5 < y < 0.5", "0.5 < y < 1.0"], "range": ["triangle-up", "circle", "square"]}},
                "stroke": {"field": "s", "type": "nominal", "scale": {"domain": ["-1.0 < y < -0.5", "-0.5 < y < 0.5", "0.5 < y < 1.0"], "range": ["#0000ff", "#000000", "#ff0000"]}},
                "fill": {"field": "s", "type": "nominal", "scale": {"domain": ["-1.0 < y < -0.5", "-0.5 < y < 0.5", "0.5 < y < 1.0"], "range": ["transparent", "#000000", "transparent"]}}}},
  {"data": {"values": [{}]},
   "encoding": {"x": {"datum": 79.0, "type": "quantitative", "axis": null}, "y": {"datum": 0.538, "type": "quantitative", "axis": null}},
   "layer": [
    {"mark": {"type": "text", "text": "R", "fontSize": 23}},
    {"mark": {"type": "text", "text": "2", "fontSize": 15, "dx": 18.3, "dy": -12.3}},
    {"mark": {"type": "text", "text": "os,0", "fontSize": 15, "dx": 18.3, "dy": 8.5}},
    {"mark": {"type": "text", "text": "[fm", "fontSize": 23, "dx": 58.3}},
    {"mark": {"type": "text", "text": "2", "fontSize": 15, "dx": 95.3, "dy": -12.3}},
    {"mark": {"type": "text", "text": "]", "fontSize": 23, "dx": 103.8}}
   ]}
 ]},
{"width": 182, "height": 171, "data": {"name": "hbt"}, "transform": [{"filter": "datum.p == 'os2'"}],
 "resolve": {"axis": {"x": "independent", "y": "independent"}},
 "layer": [
  {"mark": {"type": "rule"},
   "encoding": {"x": {"field": "n", "type": "quantitative", "scale": {"domain": [57, 392.5], "nice": false, "zero": false}, "axis": {"orient": "bottom", "values": [100, 200, 300], "tickSize": -5, "labelPadding": 11.4, "labelFontSize": 18, "format": "d", "title": null}},
                "y": {"field": "lo", "type": "quantitative", "scale": {"domain": [-0.04, 0.242], "nice": false, "zero": false}, "axis": {"orient": "right", "values": [0, 0.05, 0.1, 0.15, 0.2], "tickSize": -6, "labelPadding": 9.3, "format": "~g", "title": null}},
                "y2": {"field": "hi"}}},
  {"mark": {"type": "tick", "orient": "horizontal", "size": 8},
   "encoding": {"x": {"field": "n", "type": "quantitative", "axis": {"orient": "top", "values": [100, 200, 300], "tickSize": -5, "labels": false, "title": null}},
                "y": {"field": "lo", "type": "quantitative", "axis": {"orient": "left", "values": [0, 0.05, 0.1, 0.15, 0.2], "tickSize": -6, "labels": false, "title": null}}}},
  {"mark": {"type": "tick", "orient": "horizontal", "size": 8},
   "encoding": {"x": {"field": "n", "type": "quantitative", "axis": null},
                "y": {"field": "hi", "type": "quantitative", "axis": {"orient": "left", "values": [-0.04,-0.03,-0.02,-0.01,0,0.01,0.02,0.03,0.04,0.05,0.06,0.07,0.08,0.09,0.1,0.11,0.12,0.13,0.14,0.15,0.16,0.17,0.18,0.19,0.2,0.21,0.22,0.23,0.24], "tickSize": -3, "labels": false, "title": null}}}},
  {"mark": {"type": "point", "filled": true, "size": 55, "strokeWidth": 1, "opacity": 1},
   "encoding": {"x": {"field": "n", "type": "quantitative", "axis": null},
                "y": {"field": "v", "type": "quantitative", "axis": {"orient": "right", "values": [-0.04,-0.03,-0.02,-0.01,0,0.01,0.02,0.03,0.04,0.05,0.06,0.07,0.08,0.09,0.1,0.11,0.12,0.13,0.14,0.15,0.16,0.17,0.18,0.19,0.2,0.21,0.22,0.23,0.24], "tickSize": -3, "labels": false, "title": null}},
                "shape": {"field": "s", "type": "nominal", "scale": {"domain": ["-1.0 < y < -0.5", "-0.5 < y < 0.5", "0.5 < y < 1.0"], "range": ["triangle-up", "circle", "square"]}},
                "stroke": {"field": "s", "type": "nominal", "scale": {"domain": ["-1.0 < y < -0.5", "-0.5 < y < 0.5", "0.5 < y < 1.0"], "range": ["#0000ff", "#000000", "#ff0000"]}},
                "fill": {"field": "s", "type": "nominal", "scale": {"domain": ["-1.0 < y < -0.5", "-0.5 < y < 0.5", "0.5 < y < 1.0"], "range": ["transparent", "#000000", "transparent"]}}}},
  {"data": {"values": [{}]},
   "encoding": {"x": {"datum": 145.5, "type": "quantitative", "axis": null}, "y": {"datum": 0.1645, "type": "quantitative", "axis": null}},
   "layer": [
    {"mark": {"type": "text", "text": "R", "fontSize": 23}},
    {"mark": {"type": "text", "text": "2", "fontSize": 15, "dx": 19, "dy": -12}},
    {"mark": {"type": "text", "text": "os,2", "fontSize": 15, "dx": 19, "dy": 8.3}},
    {"mark": {"type": "text", "text": "/R", "fontSize": 23, "dx": 54}},
    {"mark": {"type": "text", "text": "2", "fontSize": 15, "dx": 78.3, "dy": -12}},
    {"mark": {"type": "text", "text": "s,0", "fontSize": 15, "dx": 78.3, "dy": 10}}
   ]},
  {"data": {"values": [{}]},
   "encoding": {"x": {"datum": 259.2, "type": "quantitative", "axis": null}, "y": {"datum": -0.1048, "type": "quantitative", "axis": null}},
   "layer": [
    {"mark": {"type": "text", "text": "N", "fontSize": 20}},
    {"mark": {"type": "text", "text": "part", "fontSize": 15, "dx": 16.6, "dy": 6.7}}
   ]}
 ]}
]
}
